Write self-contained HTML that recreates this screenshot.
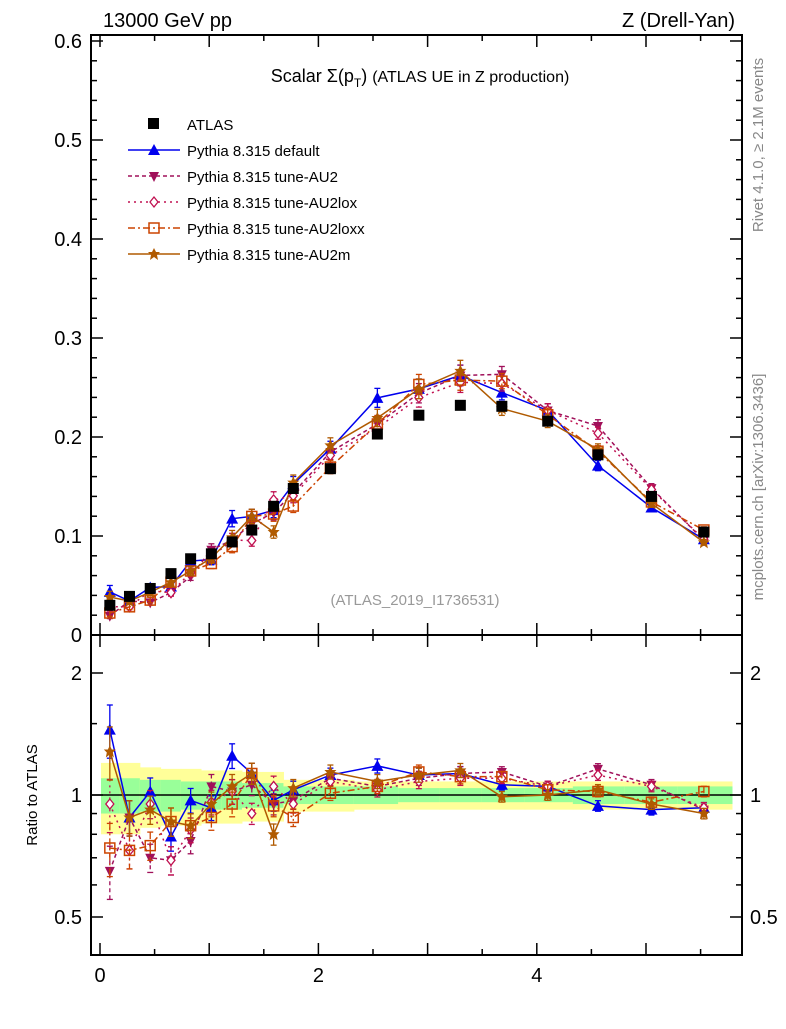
<!DOCTYPE html>
<html><head><meta charset="utf-8"><style>
body{margin:0;background:#fff}
svg{font-family:"Liberation Sans",sans-serif}
</style></head><body>
<svg id="c" width="786" height="1024" viewBox="0 0 786 1024" xmlns="http://www.w3.org/2000/svg"></svg>
<script>
const xs=[0.09,0.27,0.46,0.65,0.83,1.02,1.21,1.39,1.59,1.77,2.11,2.54,2.92,3.30,3.68,4.10,4.56,5.05,5.53];
const atlas=[0.030,0.039,0.047,0.062,0.077,0.082,0.094,0.106,0.130,0.148,0.168,0.203,0.222,0.232,0.231,0.216,0.182,0.140,0.104];
const rDefault=[1.45,0.88,1.02,0.79,0.97,0.93,1.25,1.13,0.97,1.03,1.12,1.18,1.12,1.13,1.06,1.05,0.94,0.92,0.93];
const rAU2=[0.65,0.88,0.70,0.69,0.77,1.05,1.02,1.06,0.95,0.97,1.10,1.05,1.10,1.13,1.14,1.05,1.16,1.06,0.92];
const rAU2lox=[0.95,0.73,0.95,0.69,0.82,0.96,1.02,0.90,1.05,0.95,1.08,1.03,1.08,1.10,1.10,1.05,1.12,1.05,0.93];
const rAU2loxx=[0.74,0.73,0.75,0.86,0.84,0.88,0.95,1.13,0.94,0.88,1.01,1.05,1.14,1.11,1.11,1.03,1.02,0.96,1.02];
const rAU2m=[1.28,0.88,0.92,0.86,0.84,0.95,1.05,1.13,0.80,1.04,1.14,1.08,1.12,1.15,0.99,1.00,1.03,0.95,0.90];
const bandYellow=[0.20,0.20,0.17,0.16,0.16,0.15,0.15,0.14,0.14,0.09,0.09,0.08,0.08,0.08,0.08,0.08,0.08,0.08,0.08];
const bandGreen=[0.10,0.10,0.09,0.09,0.08,0.08,0.08,0.07,0.07,0.05,0.05,0.05,0.04,0.04,0.04,0.04,0.05,0.05,0.05];
const relErr=[0.15,0.10,0.08,0.08,0.07,0.07,0.07,0.06,0.06,0.05,0.04,0.04,0.04,0.04,0.03,0.03,0.03,0.03,0.03];
const yTicksMain=[0,0.1,0.2,0.3,0.4,0.5,0.6];
const xTicks=[0,2,4];

const svg=document.getElementById('c');const NS='http://www.w3.org/2000/svg';
function el(t,a,p){const e=document.createElementNS(NS,t);for(const k in a)e.setAttribute(k,a[k]);(p||svg).appendChild(e);return e;}
const L=91,R=742,T1=35,B1=635,T2=635,B2=955;
const X=v=>100+v*109.2;
const Y1=v=>635-v*990;
const Y2=v=>795-Math.log2(v)*122;

// bands
for(let i=0;i<xs.length;i++){
  const x0=i==0?L+10:(X(xs[i-1])+X(xs[i]))/2, x1=i==xs.length-1?R-10:(X(xs[i])+X(xs[i+1]))/2;
  const y=el('rect',{x:x0,y:Y2(1+bandYellow[i]),width:x1-x0+0.5,height:Y2(1-bandYellow[i])-Y2(1+bandYellow[i]),fill:'#ffff99'});
  
  const g=el('rect',{x:x0,y:Y2(1+bandGreen[i]),width:x1-x0+0.5,height:Y2(1-bandGreen[i])-Y2(1+bandGreen[i]),fill:'#99ff99'});
  
}
el('line',{x1:L,x2:R,y1:Y2(1),y2:Y2(1),stroke:'#000','stroke-width':1.5});

// frames
for(const [t,b] of [[T1,B1],[T2,B2]]){const f=el('rect',{x:L,y:t,width:R-L,height:b-t,fill:'none',stroke:'#000','stroke-width':2});}

// x ticks
for(let v=0;v<=5.8;v+=0.5){const maj=Math.abs(v-Math.round(v))<1e-6;const len=maj?12:6;
 for(const [t,b] of [[T1,B1],[T2,B2]]){el('line',{x1:X(v),x2:X(v),y1:b,y2:b-len,stroke:'#000','stroke-width':1.5});el('line',{x1:X(v),x2:X(v),y1:t,y2:t+len,stroke:'#000','stroke-width':1.5});}}
xTicks.forEach(v=>{const t=el('text',{x:X(v),y:982,'font-size':20,'text-anchor':'middle'});t.textContent=v;});
// main y ticks
for(let v=0;v<=0.605;v+=0.02){const maj=Math.abs(v*10-Math.round(v*10))<1e-6;const len=maj?12:6;
 el('line',{x1:L,x2:L+len,y1:Y1(v),y2:Y1(v),stroke:'#000','stroke-width':1.5});el('line',{x1:R,x2:R-len,y1:Y1(v),y2:Y1(v),stroke:'#000','stroke-width':1.5});}
yTicksMain.forEach(v=>{const t=el('text',{x:82,y:Y1(v)+7,'font-size':20,'text-anchor':'end'});t.textContent=v;});
// ratio y ticks
[0.5,0.6,0.7,0.8,0.9,1,1.5,2].forEach(v=>{const maj=[0.5,1,2].includes(v);const len=maj?12:6;
 el('line',{x1:L,x2:L+len,y1:Y2(v),y2:Y2(v),stroke:'#000','stroke-width':1.5});el('line',{x1:R,x2:R-len,y1:Y2(v),y2:Y2(v),stroke:'#000','stroke-width':1.5});});
[[2,'2'],[1,'1'],[0.5,'0.5']].forEach(([v,s])=>{for(const [x,a] of [[82,'end'],[750,'start']]){const t=el('text',{x:x,y:Y2(v)+7,'font-size':20,'text-anchor':a});t.textContent=s;}});

// series
const series=[
 {name:'default',r:rDefault,c:'#0000ee',dash:'',m:'tri'},
 {name:'au2',r:rAU2,c:'#a0105a',dash:'4,3',m:'dtri'},
 {name:'au2lox',r:rAU2lox,c:'#c01050',dash:'2,4',m:'dia'},
 {name:'au2loxx',r:rAU2loxx,c:'#cc4400',dash:'7,3,2,3',m:'sq'},
 {name:'au2m',r:rAU2m,c:'#b05a00',dash:'',m:'star'}];
function marker(m,x,y,c,g){
 if(m=='tri')el('polygon',{points:`${x},${y-6} ${x-6},${y+5} ${x+6},${y+5}`,fill:c},g);
 if(m=='dtri')el('polygon',{points:`${x},${y+6} ${x-5},${y-4} ${x+5},${y-4}`,fill:c},g);
 if(m=='dia')el('polygon',{points:`${x},${y-5} ${x-4},${y} ${x},${y+5} ${x+4},${y}`,fill:'#fff',stroke:c,'stroke-width':1.3},g);
 if(m=='sq')el('rect',{x:x-5,y:y-5,width:10,height:10,fill:'none',stroke:c,'stroke-width':1.5},g);
 if(m=='star')el('polygon',{points:`${x},${y-6} ${x+2},${y-2} ${x+6},${y-2} ${x+3},${y+1} ${x+4},${y+6} ${x},${y+3} ${x-4},${y+6} ${x-3},${y+1} ${x-6},${y-2} ${x-2},${y-2}`,fill:c},g);
}
series.forEach(s=>{
 const g=el('g',{});
 const mv=xs.map((x,i)=>atlas[i]*s.r[i]);
 el('polyline',{points:xs.map((x,i)=>X(x)+','+Y1(mv[i])).join(' '),fill:'none',stroke:s.c,'stroke-width':1.5,'stroke-dasharray':s.dash},g);
 el('polyline',{points:xs.map((x,i)=>X(x)+','+Y2(s.r[i])).join(' '),fill:'none',stroke:s.c,'stroke-width':1.5,'stroke-dasharray':s.dash},g);
 xs.forEach((x,i)=>{const e=relErr[i];
  for(const [yf,v] of [[Y1,mv[i]],[Y2,s.r[i]]]){
   const a=yf(v*(1+e)),b=yf(v*(1-e));
   el('line',{x1:X(x),x2:X(x),y1:a,y2:b,stroke:s.c,'stroke-width':1.3,'stroke-dasharray':s.dash},g);
   el('line',{x1:X(x)-3,x2:X(x)+3,y1:a,y2:a,stroke:s.c,'stroke-width':1.3},g);
   el('line',{x1:X(x)-3,x2:X(x)+3,y1:b,y2:b,stroke:s.c,'stroke-width':1.3},g);
   marker(s.m,X(x),yf(v),s.c,g);}
 });
});
// atlas
const ga=el('g',{});
xs.forEach((x,i)=>el('rect',{x:X(x)-5.5,y:Y1(atlas[i])-5.5,width:11,height:11,fill:'#000'},ga));

// texts
function txt(s,a,name){const t=el('text',a);t.textContent=s;return t;}
txt('13000 GeV pp',{x:103,y:27,'font-size':20},'beam-label');
txt('Z (Drell-Yan)',{x:735,y:27,'font-size':20,'text-anchor':'end'},'process-label');
const tt=txt('',{x:420,y:82,'font-size':18,'text-anchor':'middle'},'plot-title');
tt.innerHTML='Scalar Σ(p<tspan font-size="12" dy="5">T</tspan><tspan dy="-5">) </tspan><tspan font-size="16">(ATLAS UE in Z production)</tspan>';
txt('(ATLAS_2019_I1736531)',{x:415,y:605,'font-size':15,fill:'#999','text-anchor':'middle'},'analysis-id');
txt('Ratio to ATLAS',{x:37,y:795,'font-size':15,'text-anchor':'middle',transform:'rotate(-90 37 795)'},'ratio-y-title');
txt('Rivet 4.1.0, ≥ 2.1M events',{x:763,y:145,'font-size':15,fill:'#888','text-anchor':'middle',transform:'rotate(-90 763 145)'},'rivet-label');
txt('mcplots.cern.ch [arXiv:1306.3436]',{x:763,y:487,'font-size':15,fill:'#888','text-anchor':'middle',transform:'rotate(-90 763 487)'},'mcplots-label');
// legend
const lg=el('g',{});
el('rect',{x:148,y:118,width:11,height:11,fill:'#000'},lg);
txt('ATLAS',{x:187,y:130,'font-size':15},'legend-entry');
const names=['Pythia 8.315 default','Pythia 8.315 tune-AU2','Pythia 8.315 tune-AU2lox','Pythia 8.315 tune-AU2loxx','Pythia 8.315 tune-AU2m'];
series.forEach((s,i)=>{const y=150+i*26;
 el('line',{x1:128,x2:180,y1:y,y2:y,stroke:s.c,'stroke-width':1.5,'stroke-dasharray':s.dash},lg);
 marker(s.m,154,y,s.c,lg);
 txt(names[i],{x:187,y:y+6,'font-size':15},'legend-entry');});
</script>
</body></html>
